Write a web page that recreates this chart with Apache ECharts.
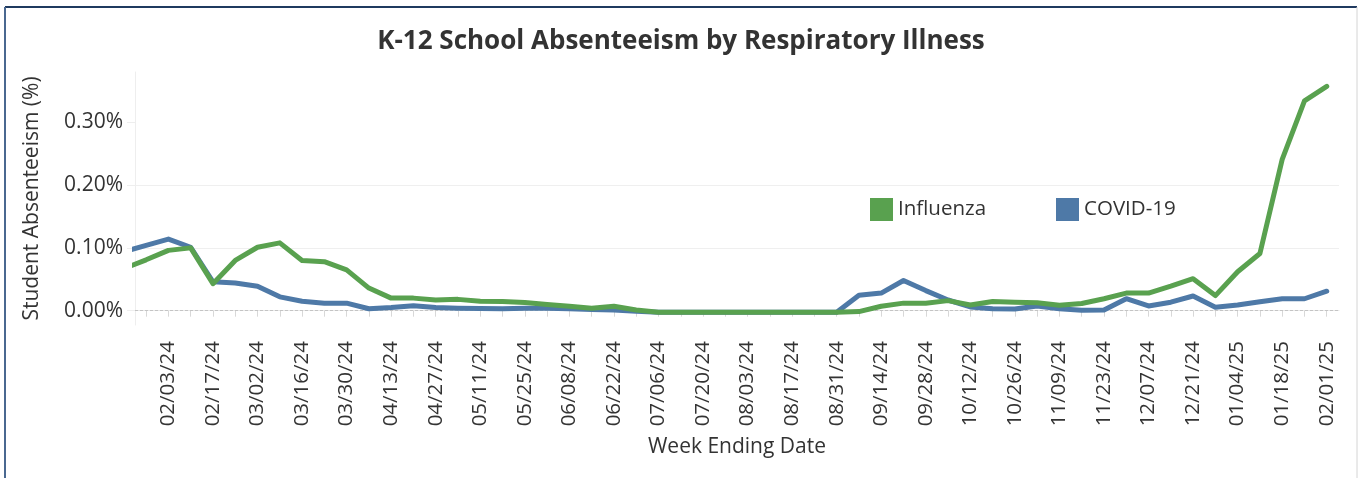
<!DOCTYPE html>
<html>
<head>
<meta charset="utf-8">
<script src="https://cdn.jsdelivr.net/npm/echarts@6/dist/echarts.min.js"></script>
<style>
html,body{margin:0;padding:0;background:#fff;}
#c{width:1358px;height:478px;}
</style>
</head>
<body>
<div id="c"></div>
<script>
// Week ending dates (categories / tick labels)
const weekEnding = [
  '01/20/24','01/27/24','02/03/24','02/10/24','02/17/24','02/24/24','03/02/24','03/09/24',
  '03/16/24','03/23/24','03/30/24','04/06/24','04/13/24','04/20/24','04/27/24','05/04/24',
  '05/11/24','05/18/24','05/25/24','06/01/24','06/08/24','06/15/24','06/22/24','06/29/24',
  '07/06/24','07/13/24','07/20/24','07/27/24','08/03/24','08/10/24','08/17/24','08/24/24',
  '08/31/24','09/07/24','09/14/24','09/21/24','09/28/24','10/05/24','10/12/24','10/19/24',
  '10/26/24','11/02/24','11/09/24','11/16/24','11/23/24','11/30/24','12/07/24','12/14/24',
  '12/21/24','12/28/24','01/04/25','01/11/25','01/18/25','01/25/25','02/01/25'
];

// Student absenteeism (%) — Influenza
const influenza = [
  0.067, 0.081, 0.096, 0.100, 0.043, 0.080, 0.101, 0.108,
  0.080, 0.078, 0.065, 0.036, 0.020, 0.020, 0.017, 0.018,
  0.015, 0.0145, 0.013, 0.010, 0.007, 0.004, 0.007, 0.001,
  -0.0025, -0.0025, -0.0025, -0.0025, -0.0025, -0.0025, -0.0025, -0.0025,
  -0.0025, -0.0015, 0.007, 0.012, 0.012, 0.016, 0.009, 0.0145,
  0.0135, 0.0125, 0.0085, 0.0115, 0.019, 0.028, 0.028, 0.039,
  0.051, 0.024, 0.062, 0.091, 0.241, 0.334, 0.357
];

// Student absenteeism (%) — COVID-19
const covid19 = [
  0.094, 0.104, 0.114, 0.101, 0.046, 0.044, 0.039, 0.022,
  0.015, 0.012, 0.012, 0.003, 0.005, 0.008, 0.005, 0.004,
  0.0035, 0.003, 0.004, 0.004, 0.003, 0.002, 0.001, -0.001,
  -0.0025, -0.0025, -0.0025, -0.0025, -0.0025, -0.0025, -0.0025, -0.0025,
  -0.0025, 0.0245, 0.028, 0.048, 0.032, 0.017, 0.006, 0.003,
  0.0027, 0.0075, 0.003, 0.0006, 0.001, 0.019, 0.0075, 0.0135,
  0.0234, 0.0054, 0.009, 0.0143, 0.019, 0.019, 0.031
];

// Y tick values (%)
const yTicks = [0, 0.1, 0.2, 0.3];

const weekIdx = weekEnding.map((d, i) => i);
const tickWeeks = weekIdx.filter(i => i >= 1);
const labelWeeks = weekIdx.filter(i => i >= 2 && i % 2 === 0);

const FONT = "'Open Sans', sans-serif";
const TXT = '#333333';

const chart = echarts.init(document.getElementById('c'), null, {renderer: 'canvas'});
chart.setOption({
  animation: false,
  backgroundColor: '#ffffff',
  graphic: [
    {type: 'line', shape: {x1: 5, y1: 7, x2: 1357, y2: 7}, style: {stroke: '#1f3a5f', lineWidth: 2}},
    {type: 'line', shape: {x1: 5, y1: 7, x2: 5, y2: 478}, style: {stroke: '#4a6890', lineWidth: 2}},
    {type: 'line', shape: {x1: 1357, y1: 7, x2: 1357, y2: 478}, style: {stroke: '#d4d4d4', lineWidth: 1}}
  ],
  title: {
    text: 'K-12 School Absenteeism by Respiratory Illness',
    left: 676, top: 24, textAlign: 'center',
    textStyle: {fontFamily: FONT, fontWeight: 'bold', fontSize: 26, color: TXT}
  },
  legend: {
    data: ['Influenza', 'COVID-19'],
    left: 865, top: 193,
    itemWidth: 23, itemHeight: 23, itemGap: 70,
    icon: 'rect',
    selectedMode: false,
    textStyle: {fontFamily: FONT, fontSize: 20.5, color: TXT}
  },
  grid: {left: 135, right: 19, top: 72, bottom: 153, containLabel: false},
  xAxis: {
    type: 'value',
    min: 0.5, max: 54.55,
    name: 'Week Ending Date',
    nameLocation: 'middle', nameGap: 112,
    nameTextStyle: {fontFamily: FONT, fontSize: 21, color: TXT},
    axisLine: {show: true, lineStyle: {color: '#e8e8e8', width: 1}},
    axisTick: {show: true, customValues: tickWeeks, length: 6, lineStyle: {color: '#d8d8d8'}},
    axisLabel: {
      customValues: labelWeeks, rotate: 90, margin: 16,
      formatter: v => weekEnding[Math.round(v)],
      fontFamily: FONT, fontSize: 20.5, color: TXT
    },
    splitLine: {show: false}
  },
  yAxis: {
    type: 'value',
    min: -0.0228, max: 0.38,
    name: 'Student Absenteeism (%)',
    nameLocation: 'middle', nameGap: 92,
    nameTextStyle: {fontFamily: FONT, fontSize: 21, color: TXT},
    axisLine: {show: true, lineStyle: {color: '#eeeeee', width: 1}},
    axisTick: {show: true, customValues: yTicks, length: 8, lineStyle: {color: '#eeeeee'}},
    axisLabel: {
      customValues: yTicks, margin: 12,
      formatter: v => v.toFixed(2) + '%',
      fontFamily: FONT, fontSize: 21, color: TXT
    },
    splitLine: {show: true, showMinLine: false, showMaxLine: false, lineStyle: {color: '#efefef', width: 1}}
  },
  series: [
    {
      name: 'COVID-19', type: 'line',
      data: covid19.map((v, i) => [i, v]),
      showSymbol: false, symbol: 'none', clip: true,
      itemStyle: {color: '#4e79a7'},
      lineStyle: {color: '#4e79a7', width: 5, cap: 'round', join: 'round'},
      emphasis: {disabled: true},
      markLine: {
        silent: true, symbol: 'none', z: 1,
        label: {show: false},
        lineStyle: {color: '#c4c4c4', type: [3, 2], width: 1},
        emphasis: {disabled: true},
        data: [{yAxis: 0}]
      },
      z: 2
    },
    {
      name: 'Influenza', type: 'line',
      data: influenza.map((v, i) => [i, v]),
      showSymbol: false, symbol: 'none', clip: true,
      itemStyle: {color: '#59a14f'},
      lineStyle: {color: '#59a14f', width: 5, cap: 'round', join: 'round'},
      emphasis: {disabled: true},
      z: 3
    }
  ]
});
</script>
</body>
</html>
